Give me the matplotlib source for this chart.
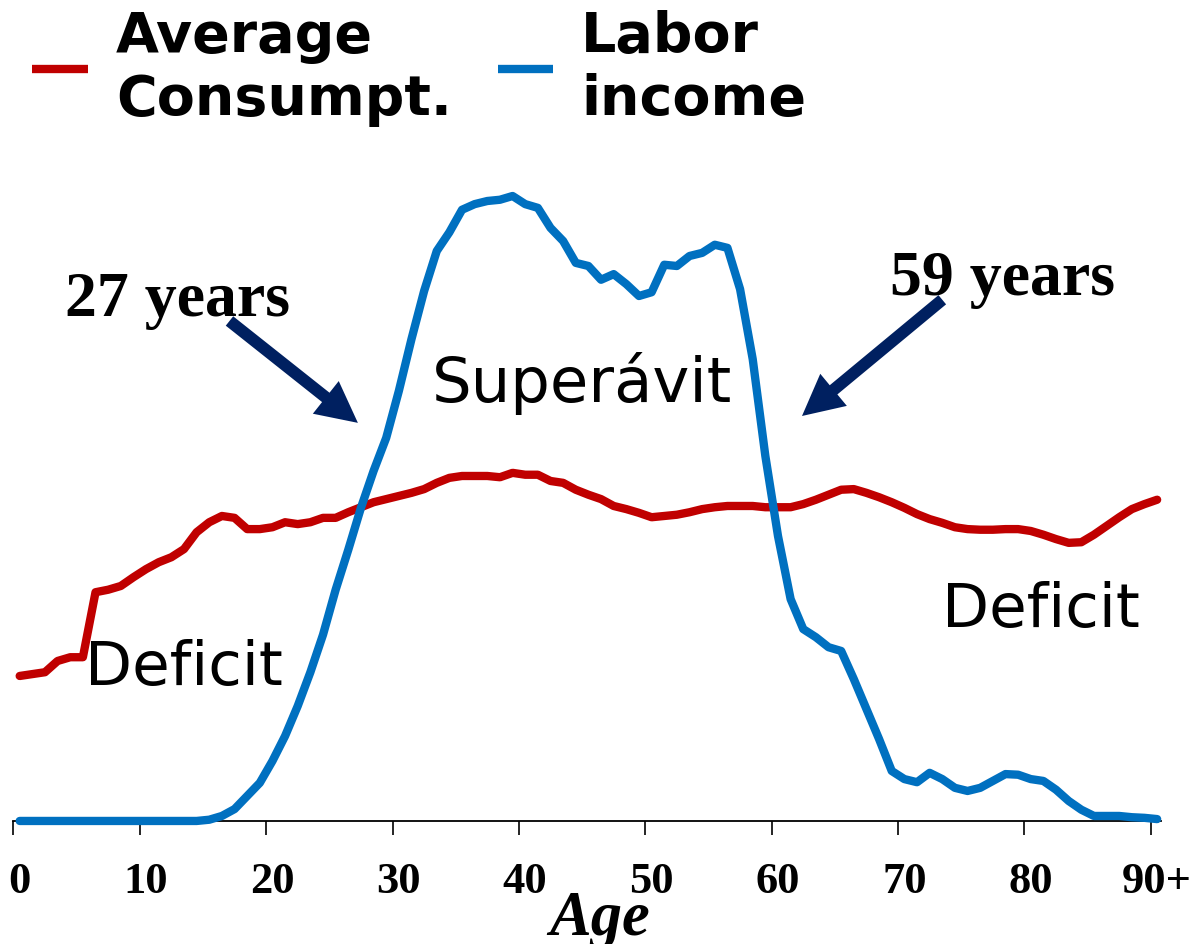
import numpy as np
import matplotlib
matplotlib.use("Agg")
import matplotlib.pyplot as plt
from matplotlib.lines import Line2D

# Edad 0..90+ (un punto por edad, centrado en cada tramo)
edades = np.arange(91)

# Consumo promedio (escala relativa: pico del ingreso laboral = 100)
consumo = [23.2, 23.5, 23.8, 25.6, 26.2, 26.2, 36.6, 37.0, 37.6, 39.0,
           40.3, 41.4, 42.2, 43.5, 46.2, 47.8, 48.8, 48.5, 46.7, 46.7,
           47.0, 47.8, 47.5, 47.8, 48.5, 48.5, 49.4, 50.2, 51.0, 51.5,
           52.0, 52.5, 53.1, 54.1, 54.9, 55.2, 55.2, 55.2, 55.0, 55.7,
           55.4, 55.4, 54.4, 54.1, 53.0, 52.2, 51.5, 50.4, 49.9, 49.3,
           48.6, 48.8, 49.0, 49.4, 49.9, 50.2, 50.4, 50.4, 50.4, 50.2,
           50.2, 50.2, 50.7, 51.4, 52.2, 53.0, 53.1, 52.5, 51.8, 51.0,
           50.1, 49.1, 48.3, 47.7, 47.0, 46.7, 46.6, 46.6, 46.7, 46.7,
           46.4, 45.8, 45.1, 44.5, 44.6, 45.8, 47.2, 48.6, 49.9, 50.7,
           51.4]

# Ingreso laboral
ingreso = [0, 0, 0, 0, 0, 0, 0, 0, 0, 0,
           0, 0, 0, 0, 0, 0.2, 0.8, 1.9, 4.0, 6.1,
           9.6, 13.6, 18.4, 23.8, 29.8, 37.0, 43.4, 50.1, 56.0, 61.3,
           68.8, 77.1, 84.8, 91.2, 94.2, 97.8, 98.7, 99.2, 99.4, 100.0,
           98.7, 98.1, 94.9, 92.8, 89.3, 88.8, 86.6, 87.5, 85.9, 84.0,
           84.6, 89.0, 88.8, 90.4, 90.9, 92.2, 91.7, 85.1, 73.9, 58.4,
           45.6, 35.5, 30.7, 29.4, 27.8, 27.2, 22.7, 17.9, 13.1, 8.0,
           6.7, 6.2, 7.7, 6.7, 5.3, 4.8, 5.3, 6.4, 7.5, 7.4,
           6.7, 6.4, 5.0, 3.2, 1.8, 0.8, 0.8, 0.8, 0.6, 0.5,
           0.3]

ticks = [0, 10, 20, 30, 40, 50, 60, 70, 80, 90]
etiquetas = ["0", "10", "20", "30", "40", "50", "60", "70", "80", "90+"]

rojo = "#C00000"
azul = "#0070C0"
marino = "#002060"

fig = plt.figure(figsize=(11.94, 9.45), dpi=100)
ax = fig.add_axes([0.0112, 0.1302, 0.9611, 0.6944])

x = edades + 0.5
ax.plot(x, consumo, color=rojo, lw=6, solid_capstyle="round",
        solid_joinstyle="round", clip_on=False, zorder=3)
ax.plot(x, ingreso, color=azul, lw=6, solid_capstyle="round",
        solid_joinstyle="round", clip_on=False, zorder=4)

ax.set_xlim(0, 90.8)
ax.set_ylim(0, 105)

for s in ["left", "right", "top"]:
    ax.spines[s].set_visible(False)
ax.spines["bottom"].set_linewidth(1.3)
ax.set_yticks([])

ax.set_xticks(ticks)
ax.set_xticklabels([])
ax.tick_params(axis="x", which="major", length=10, width=1.2, direction="out")
ax.set_xticks(np.array(ticks) + 0.5, minor=True)
ax.set_xticklabels(etiquetas, minor=True, fontfamily="Liberation Serif",
                   fontweight="bold", fontsize=32)
ax.tick_params(axis="x", which="minor", length=0, pad=29)

ax.set_xlabel("Age", fontfamily="Liberation Serif", fontweight="bold",
              fontstyle="italic", fontsize=45)
ax.xaxis.set_label_coords(0.511, -0.173)
ax.xaxis.label.set_va("baseline")

# textos
ax.text(33.1, 67.2, "Superávit", fontsize=45, ha="left", va="baseline")
ax.text(5.66, 21.9, "Deficit", fontsize=44, ha="left", va="baseline")
ax.text(73.5, 31.2, "Deficit", fontsize=44, ha="left", va="baseline")
ax.text(4.08, 81.0, "27 years", fontsize=46, fontfamily="Liberation Serif",
        fontweight="bold", ha="left", va="baseline")
ax.text(69.35, 84.3, "59 years", fontsize=46, fontfamily="Liberation Serif",
        fontweight="bold", ha="left", va="baseline")

# flechas
estilo = "simple,head_length=29.5,head_width=30,tail_width=8.6"
ax.annotate("", xy=(27.26, 63.7), xytext=(17.1, 80.0),
            arrowprops=dict(arrowstyle=estilo, color=marino, lw=0,
                            shrinkA=0, shrinkB=0, mutation_scale=1))
ax.annotate("", xy=(62.4, 64.8), xytext=(73.5, 83.4),
            arrowprops=dict(arrowstyle=estilo, color=marino, lw=0,
                            shrinkA=0, shrinkB=0, mutation_scale=1))

# leyenda
h = [Line2D([], [], color=rojo, lw=6, solid_capstyle="butt"),
     Line2D([], [], color=azul, lw=6, solid_capstyle="butt")]
ax.legend(h, ["Average\nConsumpt.", "Labor\nincome"], loc="upper left",
          bbox_to_anchor=(0.0272, 0.989), bbox_transform=fig.transFigure,
          ncol=2, frameon=False, prop=dict(weight="bold", size=40),
          handlelength=1.0, handletextpad=0.5, columnspacing=0.83,
          borderpad=0, borderaxespad=0)

plt.savefig("out.png", dpi=100)
plt.close()
